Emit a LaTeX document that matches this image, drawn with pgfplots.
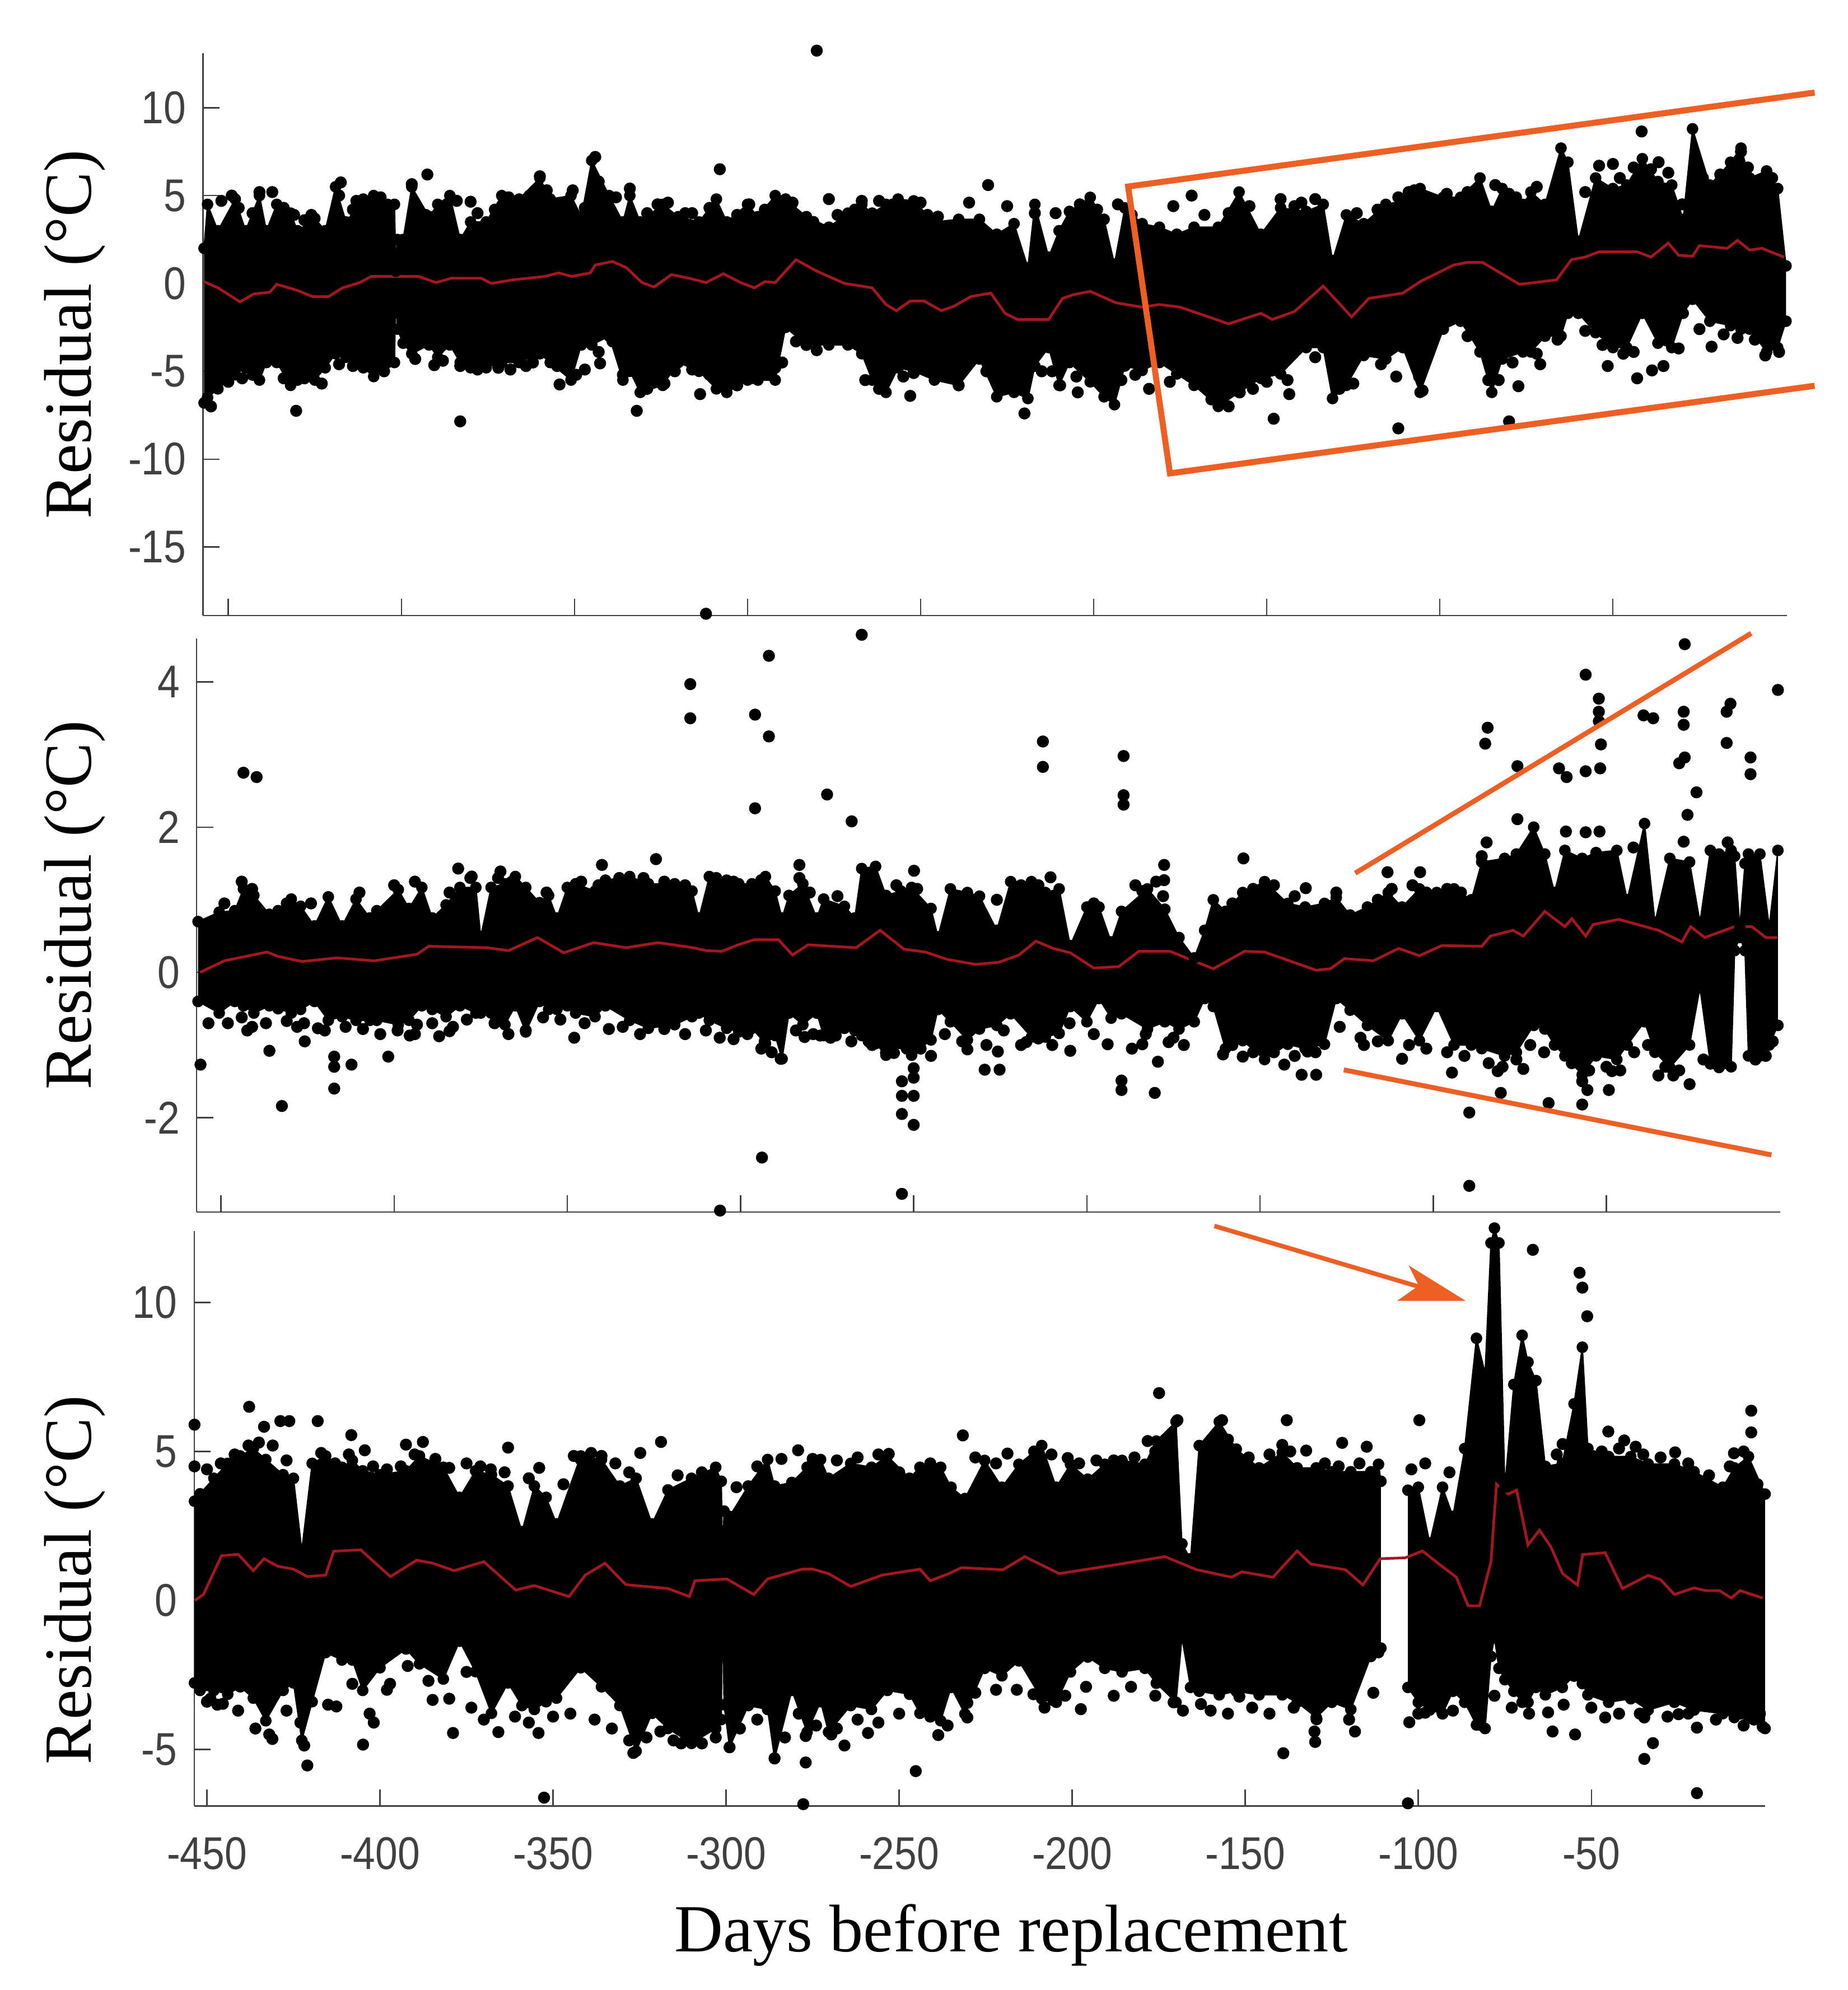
\documentclass[border=0pt]{standalone}
\usepackage{fontspec}
\setmainfont{Liberation Serif}
\newfontfamily\tickfont{Liberation Sans}
\usepackage{pgfplots}
\usepackage{pgfplotstable}
\pgfplotsset{compat=1.18}
\usepgfplotslibrary{fillbetween}
\definecolor{axgray}{HTML}{404040}
\definecolor{trend}{HTML}{A5161E}
\definecolor{orng}{HTML}{EE5F24}

% envelope of the dense cloud: day, top, bottom
\pgfplotstableread{
x hi lo
-457 2 -6.8
-456 4.5 -6.5
-453 3 -6
-448 4.8 -5.2
-445 3 -4.8
-441 5 -5.5
-439 3 -4.5
-436 4.5 -4.5
-432 4 -5.8
-430 3 -5.5
-425 3.7 -5.5
-422 3 -4.8
-419 5.5 -4
-416 3.5 -4.2
-411 4.8 -4.8
-408 5 -5.3
-404 4.5 -4.5
-402 4.5 -4.5
-401.6 0.7 -0.2
-401.2 2.5 -2.6
-399.5 2.5 -3.4
-397 5.5 -4
-392 3.8 -3.5
-389.5 4.5 -4.2
-386 5 -3.5
-383 2.5 -4.5
-380 3.5 -4.8
-375.5 3.5 -4.8
-371 5 -4.5
-366 4.8 -4.5
-360 6 -4
-357 4.8 -4.5
-351 5 -5.5
-348 3.8 -3.5
-345 7 -3.5
-340 5 -3
-336 3.5 -5.5
-334 5 -5
-331 3.5 -6.2
-324.5 4.5 -5.8
-320 3.8 -4.5
-314 3.5 -5
-309 4.8 -6
-306 3.5 -6.2
-300 4.5 -5.5
-297 3.8 -5.5
-292 5 -5.5
-289 4.8 -2.5
-283 3.8 -3.5
-276.5 3.2 -3.5
-271 4 -3.5
-267 4.5 -4
-264 4 -5.5
-260 4.5 -6.2
-256.5 4.8 -4.8
-252 4.7 -5
-246 3.5 -5.5
-239 3.65 -5.8
-233 3.65 -4.3
-228 2.8 -6.45
-223 3.4 -6.2
-219 0.9 -6.55
-217 4.5 -4.7
-213 1.5 -3.65
-210 3 -5.8
-207 4.1 -4.5
-201 4.9 -5.6
-197 3.65 -6.45
-194 1.1 -6.9
-191 4.3 -4.7
-186 3.4 -4.95
-181 3.2 -4.5
-176 2.8 -5.15
-171 3.2 -5.8
-164 3.2 -7
-158 5.2 -6.2
-151.7 2.8 -5.4
-146 4.3 -5.15
-138.6 4.1 -3.65
-133.7 4.5 -3.65
-131 1.3 -6.55
-127 3.9 -5.8
-122 3.4 -4.1
-115.6 4.5 -4.3
-110.7 4.7 -3.65
-105.7 5.4 -6.2
-99 4.9 -2.6
-94 4.9 -2.15
-88.4 6 -3.9
-85 4.1 -6.2
-82 5.4 -4.3
-76 4.5 -3.9
-73.7 5.2 -3.9
-69.6 4.5 -3
-65 7.7 -3
-63 6.9 -1.7
-60 2.4 -1.7
-55 6 -2.8
-50 5.4 -3.65
-46 5.6 -3.65
-41.5 7.1 -1.7
-37 5.8 -3.4
-33 5.6 -3.65
-29.7 3.65 -1.7
-27 8.8 -0.9
-22 5.6 -2.15
-16 6.9 -2.4
-13 7.7 -2.6
-10.5 6 -2.6
-5.6 6.4 -3.9
-2.4 5.4 -3.65
0 1.0 -2.15
}\topband

\pgfplotstableread{
x y
-457 0.1
-453 -0.25
-446.6 -1.05
-442.7 -0.6
-438 -0.5
-436 -0.05
-430 -0.4
-425.7 -0.75
-421 -0.75
-417 -0.25
-412 0.05
-408.7 0.4
-402 0.4
-395 0.4
-390 0.05
-385.5 0.3
-377 0.3
-374 0
-368 0.2
-358.5 0.4
-354.6 0.6
-350.8 0.4
-345.4 0.6
-344 1.05
-339 1.25
-335 0.9
-330.5 0.05
-327 -0.2
-322 0.5
-317 0.3
-312 0.05
-307 0.55
-302 0.05
-298 -0.25
-295 0.1
-292 0.05
-286 1.35
-280 0.7
-272 0
-264 -0.25
-260 -1.2
-257 -1.55
-253 -1.0
-249 -1.0
-244 -1.55
-240.4 -1.3
-235.5 -0.75
-229.7 -0.55
-225.6 -1.7
-222 -2.05
-213 -2.05
-209 -0.85
-206 -0.65
-201 -0.45
-193.6 -1.1
-186 -1.35
-181 -1.2
-175 -1.35
-161 -2.3
-151.7 -1.7
-148.4 -2.05
-142 -1.6
-133.7 -0.15
-125.5 -1.9
-120.5 -0.85
-110.7 -0.55
-105.7 0.1
-96 1.05
-92 1.2
-87.7 1.2
-77 -0.05
-66.3 0.2
-62 1.35
-58 1.5
-54 1.8
-43 1.8
-39 1.5
-34 2.3
-31 1.6
-27 1.55
-25 2.15
-17 2.0
-14 2.45
-10.5 1.9
-7 2.0
-0.6 1.5
}\toptrend

\pgfplotstableread{
x hi lo
-456.6 0.7 -0.4
-450.5 0.83 -0.56
-446 0.85 -0.4
-443.5 1.15 -0.46
-440.5 1.06 -0.56
-436 0.8 -0.46
-433.5 0.85 -0.5
-429.7 1.01 -0.56
-427 0.91 -0.51
-423 0.64 -0.4
-419 1.04 -0.66
-415 0.64 -0.61
-411 1.01 -0.66
-407 0.75 -0.66
-405 0.85 -0.66
-398.8 1.14 -0.72
-395.7 0.88 -0.66
-392 1.17 -0.46
-389 0.75 -0.51
-385 0.93 -0.61
-381 1.17 -0.46
-376.4 1.17 -0.56
-375 0.49 -0.56
-372 1.17 -0.56
-368 1.22 -0.72
-365 1.32 -0.46
-362 1.17 -0.82
-358 0.96 -0.4
-355.4 1.06 -0.51
-353 0.75 -0.51
-350 1.17 -0.46
-347.6 1.22 -0.56
-342 1.12 -0.61
-339 1.27 -0.46
-332 1.32 -0.66
-326.6 1.22 -0.77
-319 1.22 -0.72
-314 1.12 -0.61
-312 0.75 -0.56
-309 1.32 -0.66
-304 1.27 -0.77
-300.5 1.22 -0.82
-296.7 1.22 -0.77
-292.8 1.32 -0.98
-290 1.12 -0.87
-288 0.75 -1.19
-286 1.06 -0.56
-282 1.22 -0.72
-278 0.75 -0.56
-276 1.01 -0.87
-270 0.91 -0.77
-267 0.75 -0.8
-265 1.43 -0.87
-261 1.46 -0.98
-258 1.06 -1.14
-253.7 1.12 -0.98
-250.6 1.17 -1.14
-245 0.88 -0.93
-243 0.49 -0.51
-239.4 1.15 -0.68
-234.5 1.1 -0.93
-231 1.05 -0.78
-226 0.58 -0.73
-222 1.25 -0.57
-216 1.25 -0.89
-212 1.1 -0.89
-208 1.15 -0.84
-204.8 0.37 -0.47
-200 0.9 -0.68
-196.5 0.9 -0.36
-193 0.42 -0.63
-190 0.84 -0.57
-182.5 1.15 -0.78
-177.5 0.87 -0.68
-173.4 0.48 -0.78
-169 0.2 -0.68
-166 0.58 -0.36
-163.5 1 -0.47
-160 0.84 -1.05
-155 1.1 -0.94
-148.7 1.25 -1.2
-142 0.95 -0.99
-137 0.9 -1.05
-131.4 0.95 -0.99
-128 1.03 -0.36
-124 0.79 -0.52
-119 0.9 -0.73
-113 1.1 -0.94
-109 0.9 -0.57
-104 1.15 -0.94
-99 1.1 -0.47
-94 1.15 -1
-89 1 -1
-86 1.52 -1.05
-79.4 1.57 -1.15
-76 1.63 -1.1
-71 2 -0.73
-67.8 1.63 -0.78
-65 1.1 -1
-62 1.68 -1.15
-57 1.57 -1.41
-53 1.65 -1.15
-47 1.68 -1.2
-44 1 -1
-39 2.05 -0.68
-36 0.69 -1.1
-31.7 1.57 -1.31
-26 1.52 -1
-23 0.69 -0.21
-20 1.68 -1.26
-17.5 1.63 -1.31
-14 1.68 -1.3
-13 1.6 0.3
-11.5 0.62 0.48
-10 1.5 0.3
-9 1.63 -1.15
-5.7 1.63 -1.15
-3 0.63 -1
-0.5 1.68 -0.73
}\midband

\pgfplotstableread{
x y
-456 0
-449 0.16
-436.7 0.28
-433.5 0.22
-426.6 0.15
-416.5 0.2
-405.7 0.16
-393.4 0.25
-390 0.36
-373.2 0.34
-367 0.3
-358.6 0.48
-351 0.27
-342.4 0.41
-333 0.34
-323.8 0.41
-313.7 0.34
-309.9 0.3
-305.4 0.29
-300.7 0.38
-296 0.45
-289 0.45
-285 0.24
-280.5 0.38
-266.6 0.34
-259.7 0.58
-252.8 0.32
-246.6 0.28
-240.4 0.18
-232 0.11
-225.4 0.14
-219.6 0.24
-214.7 0.43
-209.7 0.33
-204.8 0.27
-198 0.06
-190.8 0.08
-185 0.29
-176 0.29
-163.5 0.05
-154.5 0.29
-148.7 0.28
-133.8 0.03
-129.7 0.05
-125.6 0.19
-117.3 0.16
-110 0.33
-104 0.23
-97.5 0.37
-86 0.36
-83.5 0.5
-77 0.58
-74 0.5
-67.8 0.84
-62 0.63
-60 0.74
-56 0.5
-53.8 0.66
-46.4 0.73
-35 0.58
-28.2 0.42
-25.7 0.63
-21.6 0.48
-13 0.63
-8 0.63
-4 0.48
-0.7 0.48
}\midtrend

\pgfplotstableread{
x hi lo
-453.6 3.33 -2.77
-452 3.58 -3.02
-448 4.1 -3.02
-444 4.6 -3.15
-440.4 4.85 -2.9
-436.6 5.1 -3.28
-433 4.73 -4.04
-428 4.22 -3.02
-425 4.1 -2.77
-422.6 1.68 -4.7
-419.6 4.6 -3.4
-415.7 4.85 -1.75
-411 4.47 -2
-408 4.7 -2
-405 4.35 -3.02
-400 4.22 -2.26
-392.5 4.35 -1.63
-388.6 4.85 -2.13
-381.7 4.47 -2.64
-377 3.46 -1.37
-372.4 4.35 -2.39
-367.8 4.22 -3.79
-363 3.84 -2.77
-359 2.31 -3.53
-355.4 3.84 -3.66
-352 3.46 -3.4
-349 2.57 -3.28
-342 4.85 -2.26
-336 4.73 -2.9
-330.7 3.84 -3.53
-326 4.1 -5.06
-321.4 2.57 -3.79
-316.8 3.71 -4.3
-310 4.1 -4.8
-303 4.47 -4.3
-301.4 4 -4
-301 1.3 0.2
-300.6 3 -3.5
-299 2.82 -4.93
-293.6 3.84 -3.53
-288 4.73 -3.66
-286 3.84 -5.31
-281 3.96 -3.02
-276.6 4.47 -4.42
-272.7 4.73 -3.4
-270.4 4.1 -4.42
-264 4.6 -3.53
-258 4.47 -3.66
-253.4 4.85 -3.02
-247 4.1 -3.15
-244 4.47 -3.79
-238 4.47 -4.04
-235 3.8 -2.92
-231 3.42 -3.81
-225.3 4.7 -2.28
-220.3 3.8 -2.53
-215.4 4.57 -2.03
-208.8 5.2 -3.3
-204.6 3.8 -3.42
-200.5 4.57 -2.4
-195.5 4.07 -1.9
-190.6 4.57 -2.28
-185.6 4.7 -2.4
-179 4.57 -2.28
-175.7 5.35 -2.78
-170 6 -3.42
-168.3 1.9 -1.25
-165.8 1.4 -2.92
-163.3 5.2 -3.05
-157.5 6 -3.17
-152.6 5.08 -3.05
-146 4.45 -3.17
-139.3 4.96 -3.17
-135 4.45 -3.42
-129.5 4.45 -3.93
-125 4.32 -3.42
-119.5 4.32 -3.66
-113.7 4.32 -1.88
-111.5 4.57 -1.75
-110.8 4 -1.6
}\botbandA

\pgfplotstableread{
x hi lo
-103 3.7 -2.92
-100 3.8 -3.42
-96.7 1.93 -3.68
-93 3.8 -3.8
-90 2.82 -3.05
-86.6 5.1 -3.42
-83.2 8.8 -4.18
-80.7 7.63 -4.3
-79 12 -1.88
-78 12.5 -1.25
-76.7 12 -2.28
-75 3.8 -2.66
-72.4 7.25 -3.05
-70 8.9 -3.42
-68.3 8 -3.42
-66 7.38 -2.92
-63.3 4.5 -3.17
-58.4 4.6 -2.92
-55 6.6 -2.54
-52.6 8.5 -2.79
-51 5.1 -3.17
-45 4.83 -3.42
-38.6 4.83 -3.3
-33.6 4.58 -3.68
-26 4.58 -3.42
-20.3 4.32 -3.68
-12 3.8 -3.8
-8.7 4.45 -3.93
-4.6 4.83 -3.93
0.2 3.57 -4.3
}\botbandB

\pgfplotstableread{
x y
-453.5 0
-451 0.2
-445.8 1.5
-441 1.55
-436.6 1
-433.5 1.4
-429.6 1.15
-425 1.05
-421 0.8
-415.7 0.85
-413.4 1.65
-405.6 1.7
-397 0.8
-389.4 1.35
-384.8 1.25
-378.6 1
-370 1.3
-360.8 0.35
-355.4 0.5
-345.4 0.13
-340.7 0.85
-335 1.25
-329 0.53
-316.8 0.4
-310.6 0.13
-309 0.66
-299.8 0.72
-292 0.2
-288 0.72
-278 1.05
-275 1.05
-270.4 0.9
-264 0.47
-254.9 0.85
-244 1.05
-241 0.66
-235.6 0.9
-232 1.1
-220 1.03
-213.7 1.47
-203.8 0.9
-187.3 1.2
-173.2 1.47
-164 1.03
-154 0.78
-151 0.96
-142 0.78
-135 1.66
-131 1.22
-121 1.03
-116 0.52
-111 1.4
-103.8 1.43
-98.8 1.66
-94 1.22
-89 0.78
-85.6 -0.18
-82.3 -0.18
-79 1.3
-77.4 3.9
-74 3.57
-71.6 3.7
-68.3 1.86
-65 2.36
-61.7 1.8
-58.3 0.9
-54 0.52
-52.5 1.54
-46 1.6
-41 0.4
-33.6 0.84
-30 0.7
-26 0.2
-20.3 0.42
-17 0.33
-13 0.33
-9.6 0.08
-7 0.33
-0.5 0.08
}\bottrend

\pgfplotsset{
  resid/.style={
    scale only axis,
    axis x line*=bottom,axis y line*=left,
    axis line style={axgray,-,line width=0.3pt},
    tick style={axgray,line width=0.3pt},
    tick align=inside,major tick length=1.3mm,
    clip=false,
    xtick={-450,-400,-350,-300,-250,-200,-150,-100,-50},
    xmax=0.2,
    tick label style={font=\tickfont\fontsize{10.3}{12}\selectfont,text=axgray,xscale=0.87},
    yticklabel style={xshift=-0.3mm},
    ylabel={Residual (°C)},
    label style={font=\fontsize{15.1}{18}\selectfont,anchor=center},
    xticklabels={},
  },
  band/.style={black,line width=0.3pt,mark=*,mark size=1.15pt,mark options={solid,fill=black}},
  dots/.style={only marks,mark=*,mark size=1.15pt,black,mark options={fill=black}},
  avg/.style={trend,line width=0.6pt,no markers},
}

\begin{document}
\begin{tikzpicture}

\begin{axis}[resid,at={(16mm,108.3mm)},width=124.8mm,height=44.3mm,
  xmin=-457.3,ymin=-18.9,ymax=13.1,
  ytick={-15,-10,-5,0,5,10},yticklabels={-15,-10,-5,0,5,10},
  ylabel style={at={(axis description cs:-0.081,0.5)}}]
  \addplot[band,name path=a1] table[x=x,y=hi]{\topband};
  \addplot[band,name path=a2] table[x=x,y=lo]{\topband};
  \addplot[black] fill between[of=a1 and a2];
  \addplot[dots] coordinates {
    (-280,13.25)(-312,-18.8)(-383,-7.85)(-455,-7)(-430.4,-7.25)(-392.5,6.2)(-332,-7.25)(-308,6.5)
    (-313.7,-6.3)(-253,-6.4)(-354.3,-5.75)(-344,7.2)(-230.5,5.6)(-220,-7.4)(-177,4.4)(-171.7,5)
    (-148,-7.7)(-112,-8.25)(-80,-7.85)(-41.7,8.65)(-36.8,6.9)(-54,6.7)(-50,6.8)(-13,7.5)
    (-51.5,-4.7)(-43,-5.4)(-38.7,-4.95)(-35.4,-4.7)(-21.5,-3.6)(-71,-4.6)(-112.6,-5.3)(-105,-6.1)
    (-143.5,-6.3)(-157.8,-6.2)(-204.6,-6.2)(-239,-5.8)(-184,-6)(-209.7,-5.8)(-77.3,-5.85)(-107.4,5.3)
    (-441,5.2)(-437.3,5.2)(-417.5,5.75)(-397,5.65)(-380,4.65)(-360,6.1)(-350.5,5.3)(-334,5.4)
    (-276.5,4.8)(-267,4.7)(-299.5,4.5)(-323,4.6)(-245,3.8)(-390.5,-4.65)(-342.6,-4.55)(-324,-5.7)
    (-299,-5.4)(-292,-4.8)(-283,-3.5)(-278,-3)(-266,-5.5)(-252,-5.1)(-383,-4.7)(-368.5,-4.9)
    (-364,-4.7)(-349.5,-5.2)(-336,-5.2)
    (-452,4.7)(-449,5)(-447,4.3)(-443,4)(-434,4.3)(-431,3.9)(-428,3.6)(-426,3.9)(-418,5)(-414,4.2)
    (-413,4.7)(-409,4.6)(-406,4.9)(-395,4.2)(-393,3.9)(-388,4.1)(-384,4.7)(-378,4)(-373,4.2)(-369,4.9)
    (-363,5)(-358,5.3)(-355,4.4)(-347,4.3)(-343,5.8)(-338,4.9)(-329,4)(-326,4.5)(-318,4)(-316,4)
    (-311,4.3)(-303,3.9)(-295,4.2)(-287,4.6)(-281,3.5)(-274,3.9)(-269,4.2)(-262,4.7)(-258,4.5)(-250,4.6)(-248,3.9)
    (-450,-5.6)(-446,-5.4)(-443,-5.2)(-434,-5.4)(-428,-5.4)(-423,-5.7)(-418,-4.6)(-414,-4.7)(-405,-5)(-396,-4.3)
    (-388,-4.4)(-378,-4.9)(-372,-4.8)(-362,-4.5)(-355,-4.7)(-347,-4.9)(-343,-3.9)(-339,-3.3)(-329,-6)(-321,-5)
    (-316,-4.9)(-311,-5.2)(-303,-5.8)(-295,-5.2)(-290,-4.5)(-286,-3.3)(-280,-3.8)(-262,-6)(-255,-5.3)(-249,-4.8)
    (-236,4.6)(-225,4.4)(-217,4)(-211,4)(-204,4.5)(-199,4.2)(-193,4.5)(-189,3.9)(-168,3.9)(-161,4)
    (-155,4.4)(-146,4.8)(-142,4.4)(-140,4.6)(-136,4.8)(-124,4)(-118,4.2)(-112,4.9)(-109,5.2)(-103,4.8)
    (-98,5.1)(-92,5.2)(-84,5.6)(-80,5.1)(-78,4.9)(-72,5.5)(-67,5)(-58,5.2)(-48,6)(-44,6.6)
    (-39,6.5)(-34,6.3)(-30,4.5)(-24,6)(-19,6.2)(-11,6.6)(-8,5.7)(-4,6)
    (-231,-5)(-226,-6)(-215,-5)(-212,-5)(-205,-5.3)(-192,-5.5)(-188,-5.2)(-178,-5.6)(-166,-6.6)(-161,-7)
    (-154,-6)(-150,-5.6)(-144,-5.5)(-136,-4.2)(-129,-6)(-125,-5.7)(-117,-4.6)(-106,-5.3)(-92,-3)(-86,-5.5)
    (-83,-5.5)(-79,-4.5)(-72,-4)(-66,-3.2)(-58,-2.7)(-53,-3.5)(-47,-4)(-44,-3.9)(-31,-3.7)(-25,-2.6)
    (-18,-2.9)(-14,-3.1)(-9,-3.2)(-6,-4.1)(-2,-3.9)
  };
  \addplot[avg] table[x=x,y=y]{\toptrend};
\end{axis}

\begin{axis}[resid,at={(15.5mm,61.3mm)},width=124.8mm,height=45.2mm,
  xmin=-457,ymin=-3.3,ymax=4.6,
  ytick={-2,0,2,4},yticklabels={-2,0,2,4},
  ylabel style={at={(axis description cs:-0.077,0.535)}}]
  \addplot[band,name path=b1] table[x=x,y=hi]{\midband};
  \addplot[band,name path=b2] table[x=x,y=lo]{\midband};
  \addplot[black] fill between[of=b1 and b2];
  \addplot[dots] coordinates {
    (-443.5,2.75)(-439.7,2.69)(-455.9,-1.27)(-453.6,-0.7)(-448,-0.7)(-442.4,-0.8)(-436,-1.08)(-432.4,-1.84)
    (-428,-0.75)(-425.8,-0.95)(-422,-0.77)(-417.3,-1.16)(-417.3,-1.3)(-417.3,-1.6)(-412.3,-1.27)(-401.7,-1.16)
    (-395.5,-0.87)(-393.4,-0.72)(-387,-0.88)(-384,-0.81)(-381.5,1.43)(-377.6,1.32)(-369.3,1.39)(-362,-0.8)
    (-348,-0.9)(-340,1.48)(-324.4,1.56)(-314.5,3.97)(-314.5,3.5)(-295.8,3.55)(-295.8,2.26)(-291.8,4.36)
    (-291.8,3.25)(-293.8,-2.55)(-305.9,-3.28)(-275,2.45)(-267.9,2.08)(-265,4.65)(-283,1.48)(-249.9,1.4)
    (-253.4,-3.05)(-253.4,-1.5)(-253.4,-1.7)(-253.4,-1.95)(-250,-1.32)(-250,-1.45)(-250,-1.7)(-250,-2.1)
    (-288.4,-1.19)(-293,-0.95)(-281.5,-0.89)(-277,-0.87)(-272.5,-0.87)(-263,-0.95)(-258,-1.11)(-255.7,-1.11)(-245,-1.15)
    (-212.7,3.18)(-212.7,2.83)(-189.4,2.98)(-189.4,2.44)(-189.4,2.31)(-177.7,1.48)(-177.7,1.27)(-210.5,1.31)
    (-154.8,1.57)(-136.8,1.16)(-113.2,1.38)(-103.8,1.38)(-229.5,-1.34)(-225.2,-1.34)(-234.5,-1.06)(-225.7,-1.09)
    (-217.5,-0.96)(-214,-0.91)(-204.8,-1.08)(-194,-0.99)(-184,-0.99)(-190,-1.49)(-190,-1.62)(-180.4,-1.66)
    (-179.5,-1.23)(-176.4,-0.96)(-160.7,-1.13)(-155,-1.16)(-143,-1.27)(-138,-1.41)(-133.8,-1.41)(-136.3,-1.09)
    (-120,-1)(-109,-1.19)(-94.6,-1.38)(-89.6,-1.93)(-89.6,-2.94)(-80.5,-1.66)(-81.4,-1.36)(-74,-1.33)
    (-66.7,-1.8)(-57,-1.82)(-49.3,-1.62)(-55.5,-1.62)(-48.4,-1.36)(-35,-1.42)(-30.7,-1.42)(-26,-1.54)
    (-84.3,3.37)(-85,3.15)(-75.7,2.84)(-75.7,2.11)(-84.6,1.79)(-63.7,2.81)(-61.5,2.69)(-56,4.1)
    (-56,2.77)(-52.2,3.77)(-52.2,3.59)(-52.2,3.46)(-51.6,3.14)(-51.8,2.81)(-61.7,1.94)(-56,1.93)
    (-52,1.94)(-39.3,3.54)(-36.5,3.5)(-27.7,3.59)(-27.7,3.41)(-27.4,4.52)(-27.4,2.96)(-29,2.88)
    (-24,2.48)(-26.6,2.17)(-27.7,1.8)(-14.2,3.7)(-15.3,3.59)(-15.3,3.16)(-8.4,2.96)(-8.4,2.73)
    (-0.5,3.89)(-15,1.79)(-42.2,1.72)
    (-444,-0.62)(-441,-0.75)(-437,-0.7)(-431,-0.67)(-426,-0.7)(-420,-0.8)(-414,-0.75)(-409,-0.78)(-404,-0.85)(-399,-0.8)
    (-394,-0.85)(-389,-0.7)(-383,-0.75)(-379,-0.65)(-371,-0.7)(-367,-0.85)(-357,-0.62)(-352,-0.65)(-345,-0.7)(-338,-0.78)
    (-334,-0.75)(-329,-0.85)(-322,-0.78)(-316,-0.85)(-310,-0.8)(-306,-0.9)(-302,-0.92)(-298,-0.85)(-294,-1.05)(-291,-1.1)
    (-284,-0.8)(-279,-0.85)(-274,-0.9)(-268,-0.95)(-262,-1)(-257,-1.05)(-252,-1.05)(-248,-1.05)(-241,-0.85)(-236,-0.95)
    (-229,-1)(-224,-0.8)(-219,-1)(-214,-0.8)(-210,-1)(-205,-0.7)(-198,-0.85)(-187,-1.05)(-183,-0.85)(-175,-0.9)
    (-172,-1)(-158,-1)(-152,-1.1)(-146,-1.1)(-140,-1.15)(-134,-1.1)(-127,-0.75)(-121,-0.9)(-116,-0.95)(-107,-1)
    (-102,-1.05)(-96,-1.1)(-91,-1.15)(-84,-1.25)(-80,-1.3)(-76,-1.2)(-72,-1)(-68,-1.1)(-60,-1.25)(-57,-1.5)
    (-55,-1.35)(-50,-1.3)(-46,-1.35)(-42,-1.1)(-38,-1)(-33,-1.3)(-29,-1.35)(-22,-1.2)(-19,-1.25)(-16,-1.25)(-7,-1.2)(-4,-1.15)(-2,-0.95)
    (-449,0.95)(-444,1.25)(-441,1.15)(-431,0.95)(-424,0.95)(-410,1.1)(-400,1.2)(-394,1.25)(-384,1.1)(-378,1.3)
    (-370,1.3)(-366,1.25)(-356,1.1)(-346,1.25)(-341,1.2)(-335,1.3)(-328,1.3)(-322,1.25)(-316,1.2)(-307,1.3)
    (-302,1.25)(-294,1.27)(-283,1.3)(-280,1.1)(-272,1.05)(-263,1.35)(-255,1.2)(-249,1.15)(-237,1.05)(-226,1)
    (-219,1.2)(-214,1.2)(-198,0.95)(-186,1.2)(-184,1.12)(-180,1.25)(-178,1.05)(-158,0.95)(-152,1.15)(-146,1.2)
    (-140,1.05)(-128,1.1)(-116,1)(-112,1.15)(-106,1.2)(-102,1.1)(-96,1.15)(-92,1.1)(-86,1.6)
  };
  \addplot[avg] table[x=x,y=y]{\midtrend};
\end{axis}

\begin{axis}[resid,at={(15.3mm,14.5mm)},width=123.8mm,height=45.3mm,
  xmin=-453.7,ymin=-6.9,ymax=12.4,
  ytick={-5,0,5,10},yticklabels={-5,0,5,10},
  xticklabels={-450,-400,-350,-300,-250,-200,-150,-100,-50},
  xticklabel style={yshift=-1.2mm},
  xlabel={Days before replacement},
  xlabel style={at={(axis description cs:0.52,-0.225)}},
  ylabel style={at={(axis description cs:-0.076,0.393)}}]
  \addplot[band,name path=c1] table[x=x,y=hi]{\botbandA};
  \addplot[band,name path=c2] table[x=x,y=lo]{\botbandA};
  \addplot[black] fill between[of=c1 and c2];
  \addplot[band,name path=c3] table[x=x,y=hi]{\botbandB};
  \addplot[band,name path=c4] table[x=x,y=lo]{\botbandB};
  \addplot[black] fill between[of=c3 and c4];
  \addplot[dots] coordinates {
    (-453.6,5.9)(-453.6,4.5)(-437.8,6.5)(-433.5,5.83)(-428.8,6.02)(-426.2,6.02)(-418,6.02)(-408.3,5.55)
    (-404.4,5.04)(-392.5,5.23)(-387.6,5.32)(-363,5.13)(-342,4.73)(-336,4.85)(-324.8,4.95)(-318.8,5.32)
    (-279.2,5.04)(-253,4.92)(-352.6,-6.62)(-277.7,-6.84)(-421,-5.54)(-431.1,-4.65)(-421.9,-4.87)(-404.9,-4.84)
    (-401.8,-4.1)(-412.6,-3.56)(-378.9,-4.45)(-365.8,-4.42)(-354.2,-4.45)(-245.2,-5.73)(-277,-5.44)(-286,-5.3)
    (-259,-4.45)(-238.7,-4.52)(-269.6,-4.5)(-265.8,-4.87)(-277,-4.55)(-326.8,-5.12)(-299,-4.93)(-315.2,-4.7)
    (-449,-3.3)(-445.4,-3.47)(-384.8,-3.34)(-397.1,-2.8)(-373.6,-3.6)
    (-231.6,5.54)(-174.9,6.96)(-169.6,6.05)(-156.7,6.05)(-138,6.05)(-99.7,6.05)(-66.9,11.77)(-53.4,11)
    (-52.6,10.5)(-51.2,9.54)(-3.8,6.37)(-3.8,5.64)(-45.1,5.67)(-40.5,5.37)(-37.2,5.16)(-58.3,5.25)
    (-25.8,4.97)(-8.8,4.94)(-122,5.29)(-114.9,5.16)(-132.4,5.03)(-139.3,5.22)(-178.2,5.35)(-218.7,4.93)(-201.3,4.78)
    (-103,-6.81)(-19.5,-6.47)(-139,-5.13)(-34.7,-5.32)(-32.2,-4.79)(-129.8,-4.75)(-129.4,-3.99)(-118.3,-4.4)
    (-61.2,-4.4)(-54.7,-4.5)(-62.5,-3.76)(-82,-4.18)(-102.6,-4.09)(-197.5,-3.65)(-230.3,-3.93)(-230.3,-3.44)
    (-0.5,-4.24)(-19.5,-4.27)(-24.8,-3.82)(-34.7,-3.93)(-46,-3.93)(-98,-3.77)(-93,-3.8)(-151.7,-3.23)
    (-162.8,-3.48)(-170.7,-3.42)(-205.5,-3.35)(-211.2,-3.15)(-134.4,-3.32)(-124,-3.16)(-1.3,-3.8)(-7,-3.8)
    (-450,4.4)(-446,4.6)(-442,4.9)(-438,5.2)(-435,5.3)(-431,5.2)(-427,4.7)(-417,4.95)(-413,4.6)(-409,4.9)
    (-402,4.5)(-398,4.4)(-394,4.5)(-390,4.9)(-384,4.75)(-380,4.45)(-375,4.6)(-371,4.5)(-368,4.4)(-364,4.3)
    (-357,4.1)(-354,4.45)(-347,3.9)(-344,4.85)(-339,4.95)(-332,4.6)(-328,4.3)(-314,4.2)(-307,4.3)(-297,3.8)
    (-291,4.5)(-284,4.75)(-275,4.75)(-268,4.7)(-262,4.8)(-256,4.9)(-250,4.3)(-241,4.6)(-228,4.8)(-222,4.6)
    (-211,5)(-206,4.9)(-198,4.6)(-193,4.7)(-188,4.7)(-182,4.8)(-176,5)(-172,5.2)(-160,5.3)(-155,5.4)
    (-149,4.8)(-143,4.9)(-137,5)(-127,4.6)(-123,4.5)(-117,4.6)(-102,4.4)(-98,4.6)(-91,4.3)(-60,4.9)
    (-47,5)(-42,5.1)(-35,4.9)(-30,4.8)(-22,4.6)(-16,4.2)(-10,4.5)(-6,5)(-2,3.9)
    (-450,-3.4)(-447,-3.5)(-441,-3.7)(-436,-4.3)(-432,-4.5)(-427,-3.7)(-423,-4.1)(-415,-3.5)(-408,-2.8)(-403,-3.8)
    (-398,-3)(-392,-2.2)(-386,-2.7)(-380,-3.3)(-375,-2.4)(-370,-4)(-361,-3.9)(-357,-4.1)(-350,-3.9)(-345,-3.8)
    (-338,-4)(-333,-4.3)(-328,-4.7)(-323,-4.6)(-319,-4.4)(-313,-4.8)(-307,-4.8)(-303,-4.6)(-296,-4.3)(-291,-4)
    (-283,-4.6)(-279,-3.8)(-274,-4.2)(-268,-4.3)(-262,-4)(-256,-4.1)(-250,-3.8)(-241,-3.9)(-236,-4.2)(-228,-3.1)
    (-222,-3)(-216,-3)(-208,-3.6)(-202,-3.2)(-196,-2.9)(-188,-3.2)(-183,-2.9)(-176,-3.2)(-168,-3.7)(-160,-3.7)
    (-155,-3.8)(-148,-3.6)(-143,-3.8)(-136,-3.6)(-130,-4.4)(-120,-4)(-113,-3.1)(-100,-3.8)(-90,-3.7)(-78,-3.2)
    (-73,-3.6)(-68,-3.8)(-58,-3.5)(-50,-3.6)(-42,-3.8)(-36,-3.8)(-28,-3.9)(-22,-3.8)(-14,-4)(-6,-4.2)(-3,-4)
  };
  \addplot[avg] table[x=x,y=y]{\bottrend};
\end{axis}

% orange annotations, positions in picture units from the top left
\begin{scope}[shift={(0,156.8mm)},x=0.1mm,y=-0.1mm,orng,line join=miter]
  \draw[line width=1.35pt] (1430,73) -- (889,147) -- (922,373) -- (1430,304);
  \draw[line width=1.1pt] (1068,688) -- (1380,499);
  \draw[line width=1.1pt] (1059,843) -- (1396,910);
  \draw[line width=1pt] (957,966) -- (1122,1015);
  \fill (1155,1025) -- (1110,997) -- (1118,1013) -- (1101,1025) -- cycle;
\end{scope}
\pgfresetboundingbox
\useasboundingbox (0,0) rectangle (145.6mm,156.8mm);
\end{tikzpicture}
\end{document}
